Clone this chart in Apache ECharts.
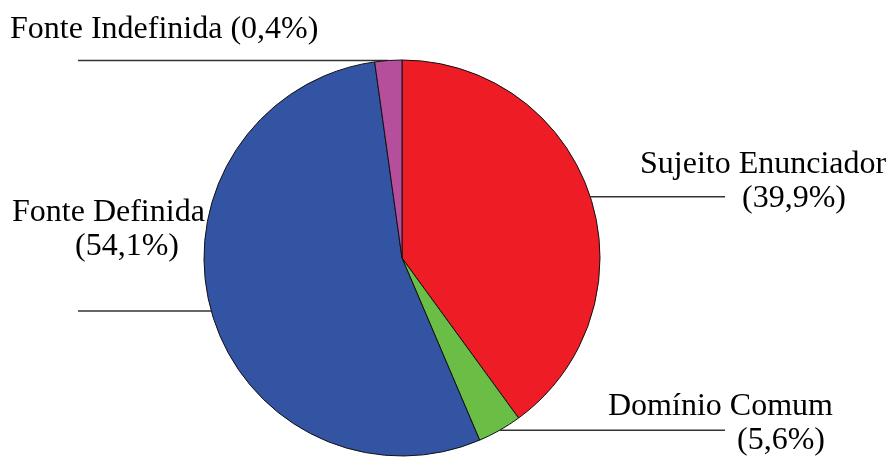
<!DOCTYPE html>
<html>
<head>
<meta charset="utf-8">
<title>Pie</title>
<script src="https://cdn.jsdelivr.net/npm/echarts@6/dist/echarts.min.js"></script>
<style>
  html, body { margin: 0; padding: 0; background: #fff; }
  #chart { width: 890px; height: 457px; }
</style>
</head>
<body>
<div id="chart"></div>
<script>
// categories, in drawing order (clockwise from 12 o'clock)
const categories = ['Sujeito Enunciador', 'Domínio Comum', 'Fonte Definida', 'Fonte Indefinida'];
// slice sizes as drawn in the picture
const sliceValues = [39.9, 3.6, 54.1, 2.2];
// percentages printed in the labels
const pctLabels = ['(39,9%)', '(5,6%)', '(54,1%)', '(0,4%)'];
const colors = ['#ee1c25', '#6abd45', '#3353a3', '#b54f9c'];

// label placement: top-left of text box, indent of 2nd line, end of leader line
const labelPos = [
    { x: 640, y: 148, indent: 102, lineEnd: 725, oneLine: false },
    { x: 608, y: 390, indent: 129, lineEnd: 725, oneLine: false },
    { x: 12, y: 196, indent: 63, lineEnd: 78, oneLine: false },
    { x: 10, y: 13, indent: 0, lineEnd: 78, oneLine: true }
];

const chart = echarts.init(document.getElementById('chart'));

const rich = {
    a: { fontFamily: 'Liberation Serif', fontSize: 32, color: '#000', lineHeight: 34 }
};
labelPos.forEach(function (p, i) {
    rich['b' + i] = {
        fontFamily: 'Liberation Serif', fontSize: 32, color: '#000', lineHeight: 34,
        padding: [0, 0, 0, p.indent]
    };
});

const option = {
    animation: false,
    backgroundColor: '#fff',
    series: [
        {
            type: 'pie',
            center: [402, 258],
            radius: 198,
            startAngle: 90,
            clockwise: true,
            avoidLabelOverlap: false,
            itemStyle: { borderColor: '#111', borderWidth: 1 },
            label: {
                show: true,
                position: 'outside',
                formatter: function (params) {
                    const i = params.dataIndex;
                    if (labelPos[i].oneLine) {
                        return '{a|' + categories[i] + ' ' + pctLabels[i] + '}';
                    }
                    return '{a|' + categories[i] + '}\n{b' + i + '|' + pctLabels[i] + '}';
                },
                rich: rich
            },
            labelLine: {
                show: true,
                lineStyle: { color: '#333', width: 1.5 }
            },
            labelLayout: function (params) {
                const p = labelPos[params.dataIndex];
                const start = params.labelLinePoints[0];
                return {
                    x: p.x,
                    y: p.y,
                    align: 'left',
                    verticalAlign: 'top',
                    labelLinePoints: [start, [p.lineEnd, start[1]], [p.lineEnd, start[1]]]
                };
            },
            data: categories.map(function (name, i) {
                return { name: name, value: sliceValues[i], itemStyle: { color: colors[i] } };
            })
        }
    ]
};

chart.setOption(option);

window.addEventListener('resize', function () {
    chart.resize();
});
</script>
</body>
</html>
